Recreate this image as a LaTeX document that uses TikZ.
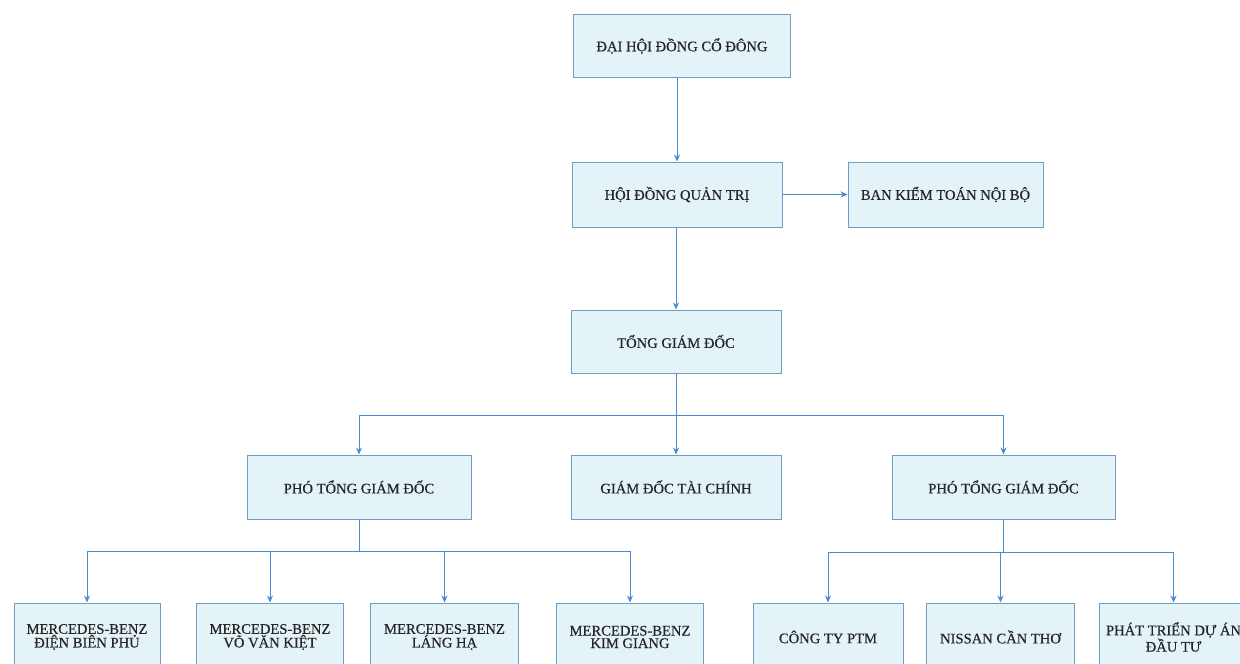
\documentclass[tikz,border=0pt]{standalone}
\usepackage{fontspec}
\setmainfont{Liberation Serif}[FakeBold=0.5]
\usetikzlibrary{arrows.meta,calc}
\definecolor{boxfill}{HTML}{E4F3F8}
\definecolor{boxdraw}{HTML}{6E9CC4}
\definecolor{arrcol}{HTML}{4A8AD0}
\begin{document}
\begin{tikzpicture}[x=1pt,y=-1pt,
  box/.style={draw=boxdraw,fill=boxfill,line width=1pt,rectangle,inner sep=0pt,
    align=center,text=black!85,font=\fontsize{14.6}{12.5}\selectfont},
  conn/.style={draw=arrcol,line width=0.9pt},
  arr/.style={conn,-{Stealth[length=7pt,width=6pt]}}]
\useasboundingbox (0,0) rectangle (1240,664);
\clip (0,0) rectangle (1240,664);
\node[box,minimum width=217pt,minimum height=63pt] (dh) at (682,46) {ĐẠI HỘI ĐỒNG CỔ ĐÔNG};
\node[box,minimum width=210pt,minimum height=65pt] (hd) at (677,194.5) {HỘI ĐỒNG QUẢN TRỊ};
\node[box,minimum width=195pt,minimum height=65pt] (bk) at (945.5,194.5) {BAN KIỂM TOÁN NỘI BỘ};
\node[box,minimum width=210pt,minimum height=63pt] (tg) at (676,341.5) {TỔNG GIÁM ĐỐC};
\node[box,minimum width=224pt,minimum height=64pt] (p1) at (359,487) {PHÓ TỔNG GIÁM ĐỐC};
\node[box,minimum width=210pt,minimum height=64pt] (tc) at (676,487) {GIÁM ĐỐC TÀI CHÍNH};
\node[box,minimum width=223pt,minimum height=64pt] (p2) at (1003.5,487) {PHÓ TỔNG GIÁM ĐỐC};
\node[box,minimum width=146pt,minimum height=68pt] (b1) at (87,637) {MERCEDES-BENZ\\ĐIỆN BIÊN PHỦ};
\node[box,minimum width=147pt,minimum height=68pt] (b2) at (270,637) {MERCEDES-BENZ\\VÕ VĂN KIỆT};
\node[box,minimum width=148pt,minimum height=68pt] (b3) at (444.5,637) {MERCEDES-BENZ\\LÁNG HẠ};
\node[box,minimum width=147pt,minimum height=68pt] (b4) at (630,637) {MERCEDES-BENZ\\KIM GIANG};
\node[box,minimum width=150pt,minimum height=68pt] (b5) at (828,637) {CÔNG TY PTM};
\node[box,minimum width=148pt,minimum height=68pt] (b6) at (1000.5,637) {NISSAN CẦN THƠ};
\node[box,minimum width=148pt,minimum height=68pt] (b7) at (1173.5,637) {PHÁT TRIỂN DỰ ÁN\\ĐẦU TƯ};
\coordinate (j1) at (676,415);
\coordinate (j2) at (p1.south |- 0,551);
\coordinate (j3) at (p2.south |- 0,552);
\draw[arr] (hd.north |- dh.south) -- (hd.north);
\draw[arr] (hd.east) -- (bk.west);
\draw[arr] (hd.south -| tg.north) -- (tg.north);
\draw[arr] (tg.south) -- (tc.north);
\draw[conn] (p1.north |- j1) -- (p2.north |- j1);
\draw[arr] (p1.north |- j1) -- (p1.north);
\draw[arr] (p2.north |- j1) -- (p2.north);
\draw[conn] (p1.south) -- (j2);
\draw[conn] (b1.north |- j2) -- (b4.north |- j2);
\foreach \b in {b1,b2,b3,b4} \draw[arr] (\b.north |- j2) -- (\b.north);
\draw[conn] (p2.south) -- (j3);
\draw[conn] (b5.north |- j3) -- (b7.north |- j3);
\foreach \b in {b5,b6,b7} \draw[arr] (\b.north |- j3) -- (\b.north);
\end{tikzpicture}
\end{document}
